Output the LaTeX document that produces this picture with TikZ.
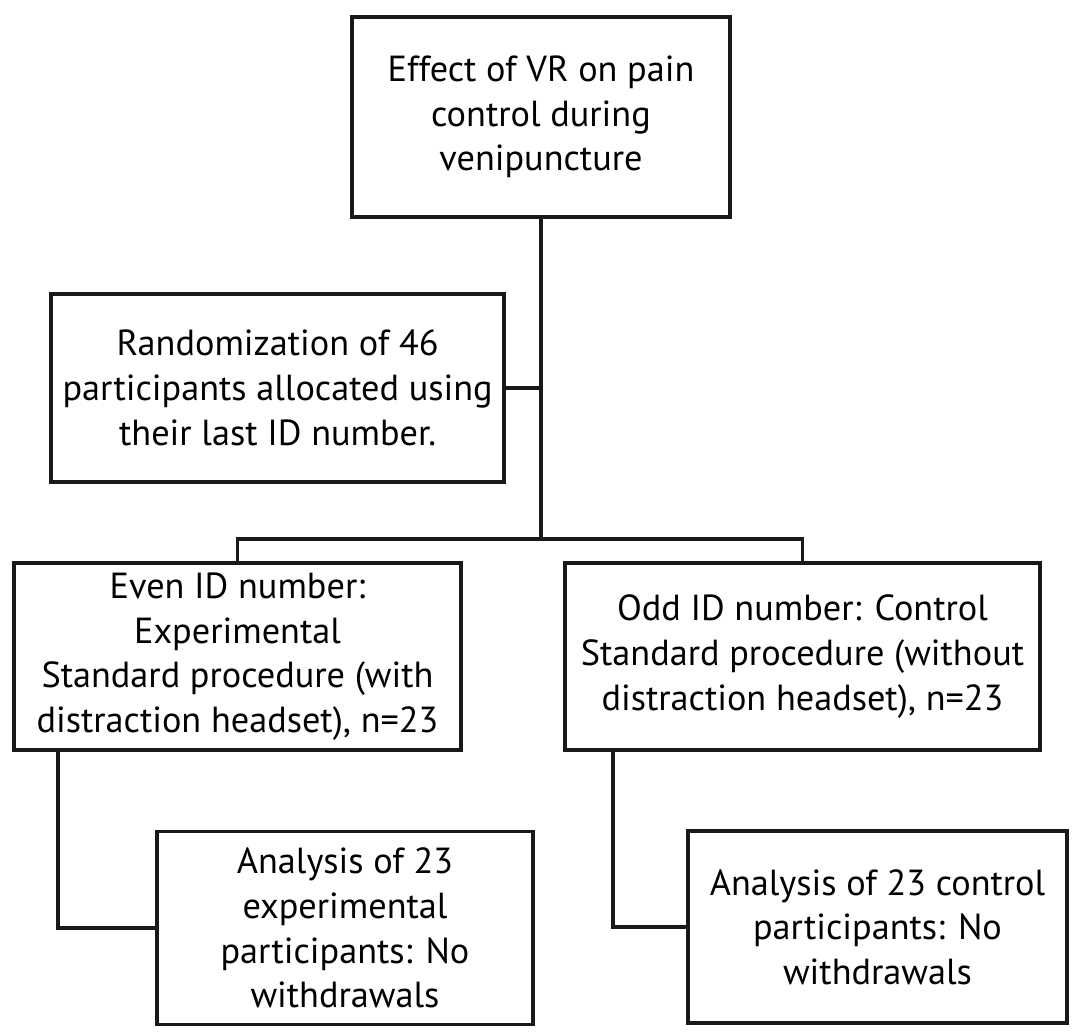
\documentclass[tikz,border=0pt]{standalone}
\usepackage{fontspec}
\setmainfont{PT Sans}
\usepackage{tikz}
\usetikzlibrary{positioning,calc}

\begin{document}
\begin{tikzpicture}[
    stagebox/.style={
        rectangle,
        draw=black!90,
        line width=2.7pt,
        fill=white,
        align=center,
        inner sep=0pt,
        font=\fontsize{25.8}{31.8}\selectfont
    },
    link/.style={line width=2.7pt, draw=black!90}
]

\useasboundingbox (0,0) rectangle (27.3,-25.8);

\node[stagebox, minimum width=9.45cm,  minimum height=5.0cm]
    (effect) at (13.525, -2.925) {Effect of VR on pain\\control during\\venipuncture};

\node[stagebox, minimum width=11.325cm, minimum height=4.7cm]
    (random) at (6.94, -9.7) {Randomization of 46\\participants allocated using\\their last ID number.};

\node[stagebox, minimum width=11.175cm, minimum height=4.675cm]
    (even) at (5.9375, -16.4125) {Even ID number:\\Experimental\\Standard procedure (with\\distraction headset), n=23};
\node[stagebox, minimum width=11.875cm, minimum height=4.675cm]
    (odd) at (20.0625, -16.4125) {Odd ID number: Control\\Standard procedure (without\\distraction headset), n=23};

\node[stagebox, minimum width=9.4cm,   minimum height=4.825cm]
    (evenres) at (8.625, -23.2) {Analysis of 23\\experimental\\participants: No\\withdrawals};
\node[stagebox, minimum width=9.475cm, minimum height=4.8cm]
    (oddres) at (21.9375, -23.175) {Analysis of 23 control\\participants: No\\withdrawals};

\coordinate (split) at ($(effect.south)+(0,-8.0)$);

\draw[link] (effect.south) -- (split);
\draw[link] (random.east) -- (random.east -| effect.south);
\draw[link] (even.north) |- (split) -| (odd.north);

\draw[link] ([xshift=1.15cm]even.south west) |- (evenres.west);
\draw[link] ([xshift=1.25cm]odd.south west) |- (oddres.west);

\end{tikzpicture}
\end{document}
